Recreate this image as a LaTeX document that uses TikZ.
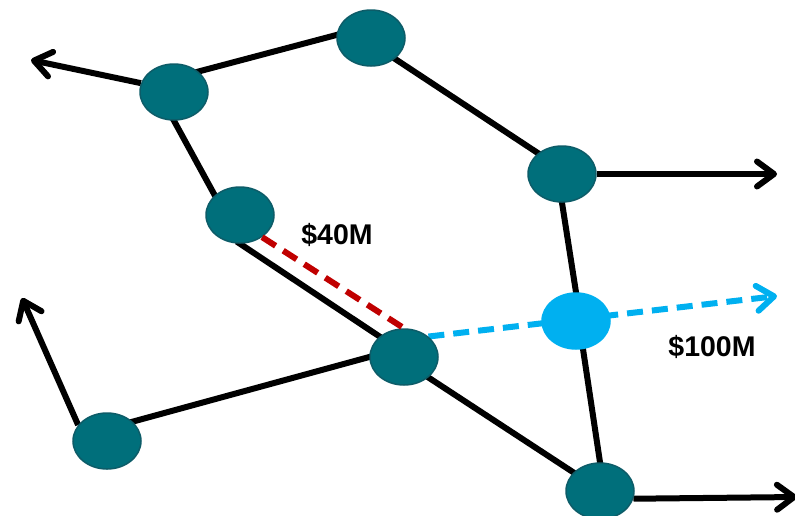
\documentclass[tikz,border=0pt]{standalone}
\usepackage{fontspec}
\setmainfont{Liberation Sans}
\usetikzlibrary{shapes.geometric,arrows.meta}
\pgfdeclarelayer{background}
\pgfsetlayers{background,main}
\definecolor{teal}{HTML}{006F7B}
\definecolor{tealedge}{HTML}{0D5C68}
\definecolor{skyblue}{HTML}{00B0F0}
\definecolor{darkred}{HTML}{C00000}
\tikzset{
  hub/.style={ellipse, draw=tealedge, line width=1.5pt, fill=teal,
    minimum width=68pt, minimum height=56pt, inner sep=0pt},
  hot/.style={hub, draw=skyblue, fill=skyblue},
  link/.style={line width=6pt, black},
  tucked/.style={shorten <=-4pt, shorten >=-4pt},
  barb/.style={-{Straight Barb[length=17pt,width=25pt,line cap=round,line join=round]}},
  flow/.style={line width=6pt, dash pattern=on 16pt off 9pt},
  money/.style={font=\bfseries\fontsize{28.5}{30}\selectfont}
}
\begin{document}
\begin{tikzpicture}[x=1pt,y=-1pt]
  \useasboundingbox (0,0) rectangle (795,515);
  % network hubs
  \node[hub] (A) at (371,38) {};
  \node[hub] (B) at (174,92) {};
  \node[hub] (C) at (562,174) {};
  \node[hub] (D) at (240,215) {};
  \node[hot] (E) at (576,321) {};
  \node[hub] (F) at (404,357) {};
  \node[hub] (G) at (107,441) {};
  \node[hub] (H) at (600,491) {};
  % free ends of the outgoing links
  \coordinate (Bout) at (31,60);
  \coordinate (Cout) at (777,174);
  \coordinate (Gout) at (22,298);
  \coordinate (Hout) at (797,497);
  \coordinate (Eout) at (777,296);
  \begin{pgfonlayer}{background}
    \draw[link,tucked] (B.40) -- (A.175);
    \draw[link,tucked] (A.-41) -- (C.139);
    \draw[link,tucked] (B.south) -- (D.142);
    \draw[link,tucked] (D.south) -- (F.140);
    \draw[link,tucked] (G.37) -- (F.west);
    \draw[link,tucked] (F.-40) -- (H.145);
    \draw[link,tucked] (C.south) -- (E.north);
    \draw[link,tucked] (E.-76) -- (H.north);
    \draw[link,barb] (B.165) -- (Bout);
    \draw[link,barb] (C.east) -- (Cout);
    \draw[link,barb] (G.151) -- (Gout);
    \draw[link,barb] (H.-13) -- (Hout);
    \draw[flow,skyblue,barb] (F.40) -- (Eout);
  \end{pgfonlayer}
  \draw[flow,darkred] (D.-45) -- (F.north);
  % amounts
  \node[money] (m40) at (337,235) {\$40M};
  \node[money] (m100) at (712,347) {\$100M};
\end{tikzpicture}
\end{document}
